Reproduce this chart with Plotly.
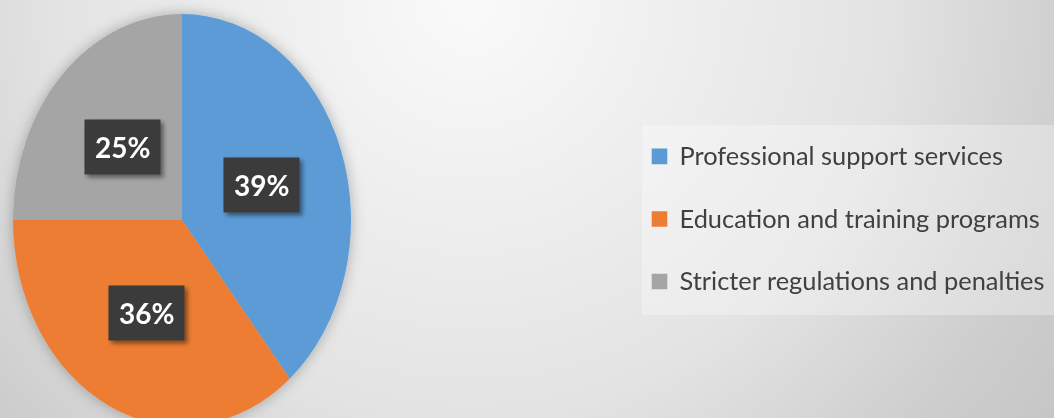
import base64
import math
import plotly.graph_objects as go

# ---- data ----
categories = ["Professional support services",
              "Education and training programs",
              "Stricter regulations and penalties"]
values = [39, 36, 25]
colors = ["#5B9BD5", "#ED7D31", "#A5A5A5"]

W, H = 1054, 418
FONT = "Lato, sans-serif"
# pie geometry (pixels) and vertical stretch of the reference ellipse
CX, CY, R = 182, 220, 169
STRETCH = 206 / 169

# background radial gradient
svg_bg = (
    "<svg xmlns='http://www.w3.org/2000/svg' width='%d' height='%d'>"
    "<defs><radialGradient id='g' gradientUnits='userSpaceOnUse' cx='470' cy='0' r='760'>"
    "<stop offset='0' stop-color='#fafafa'/>"
    "<stop offset='0.55' stop-color='#e3e3e3'/>"
    "<stop offset='0.8' stop-color='#cecece'/>"
    "<stop offset='1' stop-color='#c3c3c3'/>"
    "</radialGradient></defs>"
    "<rect width='%d' height='%d' fill='url(#g)'/></svg>" % (W, H, W, H)
)
bg_uri = "data:image/svg+xml;base64," + base64.b64encode(svg_bg.encode()).decode()

legend_labels = ["<span style='font-size:25.4px'>%s</span><br>\u00a0" % c for c in categories]

fig = go.Figure(go.Pie(
    labels=legend_labels,
    values=values,
    marker=dict(colors=colors, line=dict(width=0)),
    sort=False,
    direction="clockwise",
    rotation=0,
    textinfo="none",
    hoverinfo="none",
    domain=dict(x=[(CX - R) / W, (CX + R) / W],
                y=[1 - (CY + R) / H, 1 - (CY - R) / H]),
))

# percentage labels at half radius along each slice's mid-angle
total = sum(values)
cum = 0
annotations = []
for v in values:
    theta = 2 * math.pi * (cum + v / 2) / total
    cum += v
    px = CX + 0.5 * R * math.sin(theta)
    py = CY - 0.5 * R * STRETCH * math.cos(theta)
    annotations.append(dict(
        x=px / W, y=1 - py / H, xref="paper", yref="paper",
        text="<b>%d%%</b>" % round(100 * v / total),
        showarrow=False, bgcolor="#3b3b3b", borderpad=10,
        font=dict(family=FONT, size=28, color="white"),
        xanchor="center", yanchor="middle",
    ))

fig.update_layout(
    width=W, height=H,
    margin=dict(l=0, r=0, t=0, b=0, autoexpand=False),
    paper_bgcolor="#e2e2e2",
    images=[dict(source=bg_uri, xref="paper", yref="paper", x=0, y=1,
                 sizex=1, sizey=1, sizing="stretch", layer="below",
                 xanchor="left", yanchor="top")],
    shapes=[dict(type="rect", xref="paper", yref="paper",
                 x0=642 / W, x1=1, y0=1 - 315 / H, y1=1 - 125 / H,
                 fillcolor="rgba(255,255,255,0.3)", line=dict(width=0),
                 layer="above")],
    annotations=annotations,
    showlegend=True,
    legend=dict(
        x=639.5 / W, y=1 - 135 / H, xanchor="left", yanchor="top",
        bgcolor="rgba(0,0,0,0)",
        font=dict(family=FONT, size=22.9, color="#404040"),
        valign="top",
    ),
)

post = """
document.documentElement.style.margin='0';
document.body.style.margin='0';
document.body.style.padding='0';
var gd = document.getElementById('{plot_id}');
var S = %f;
function decorate(){
  var cd = gd.calcdata && gd.calcdata[0] && gd.calcdata[0][0];
  if(!cd) return;
  var cy = cd.cy;
  gd.querySelectorAll('.pielayer g.slice path.surface').forEach(function(p){
    p.setAttribute('transform','translate(0,'+(cy*(1-S))+') scale(1,'+S+')');
  });
  gd.querySelectorAll('.legend path.legendpie').forEach(function(p){
    var t = p.getAttribute('data-orig');
    if(t === null){ t = p.getAttribute('transform') || ''; p.setAttribute('data-orig', t); }
    p.setAttribute('transform', t + ' scale(1.3)');
  });
  var svg = gd.querySelector('svg.main-svg');
  if(svg && !svg.querySelector('#pieShadow')){
    var ns = 'http://www.w3.org/2000/svg';
    var defs = svg.querySelector('defs') || svg.insertBefore(document.createElementNS(ns,'defs'), svg.firstChild);
    defs.insertAdjacentHTML('beforeend',
      "<filter id='pieShadow' x='-20%%' y='-20%%' width='140%%' height='140%%'><feDropShadow dx='0' dy='0' stdDeviation='7' flood-color='#000' flood-opacity='0.28'/></filter>" +
      "<filter id='boxShadow' x='-20%%' y='-20%%' width='150%%' height='150%%'><feDropShadow dx='3' dy='3' stdDeviation='2' flood-color='#000' flood-opacity='0.45'/></filter>");
  }
  var pl = gd.querySelector('.pielayer');
  if(pl) pl.setAttribute('filter','url(#pieShadow)');
  gd.querySelectorAll('.annotation rect.bg').forEach(function(r){ r.setAttribute('filter','url(#boxShadow)'); });
}
decorate();
gd.on('plotly_afterplot', decorate);
""" % STRETCH

fig.write_html("out.html", post_script=post, config={"displayModeBar": False})
